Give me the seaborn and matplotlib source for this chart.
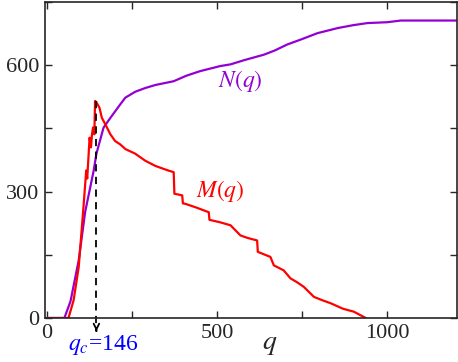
import matplotlib
matplotlib.use('Agg')
import matplotlib.pyplot as plt
import pandas as pd
import seaborn as sns

# data
q_N = [0, 52, 70, 94, 113, 138, 146, 167, 187, 216, 231, 260, 290, 319, 373, 410, 451,
       510, 540, 580, 638, 670, 706, 750, 795, 854, 900, 942, 1000, 1040, 1100, 1210]
N_vals = [0, 0, 40, 137, 252, 350, 390, 452, 475, 507, 523, 537, 546, 553, 562, 575, 586,
          598, 602, 612, 625, 635, 649, 662, 676, 688, 695, 700, 702, 706, 706, 706]

q_M = [0, 64, 79, 94, 108, 116, 119, 126, 130, 133, 136, 140, 142, 146, 155, 162,
       172, 187, 201, 216, 231, 260, 290, 319, 350, 373, 375, 398, 400, 407, 440,
       476, 478, 510, 540, 569, 590, 618, 620, 657, 667, 696, 716, 735, 755, 785,
       810, 834, 870, 902, 937]
M_vals = [0, 0, 42, 121, 263, 350, 331, 428, 405, 436, 452, 436, 515, 512, 499, 475,
          460, 436, 420, 412, 401, 390, 373, 361, 352, 346, 295, 291, 272, 271, 262,
          251, 233, 227, 220, 196, 190, 184, 157, 145, 125, 113, 94, 85, 74, 50,
          42, 35, 22, 15, 0]

q_c = 146
M_peak = 515
x_ticks = [0, 250, 500, 750, 1000]
x_labels = ['0', '', '500', '', '1000']
y_ticks = [0, 150, 300, 450, 600, 750]
y_labels = ['0', '', '300', '', '600', '']

sns.set_style('ticks')
plt.rcParams['font.family'] = ['Liberation Serif', 'DejaVu Serif']
plt.rcParams['mathtext.fontset'] = 'stix'

dfN = pd.DataFrame({'q': q_N, 'v': N_vals})
dfM = pd.DataFrame({'q': q_M, 'v': M_vals})

fig = plt.figure(figsize=(4.58, 3.62), dpi=100)
ax = fig.add_axes([45/458, 44/362, 412/458, 316/362])

sns.lineplot(data=dfN, x='q', y='v', ax=ax, color='#9400D3', lw=1.6)
sns.lineplot(data=dfM, x='q', y='v', ax=ax, color='#FF0000', lw=1.6)

ax.set_xlim(-5, 1205)
ax.set_ylim(0, 746)
ax.set_xticks(x_ticks)
ax.set_xticklabels(x_labels)
ax.set_yticks(y_ticks)
ax.set_yticklabels(y_labels)
ax.tick_params(direction='in', top=True, right=True, length=5, width=1,
               labelsize=16, pad=4)
for s in ax.spines.values():
    s.set_linewidth(1.2)
    s.set_visible(True)
ax.set_ylabel('')
ax.set_xlabel('')
ax.text((270-45)/412, -31/316, '$q$', transform=ax.transAxes, fontsize=20,
        ha='center', va='baseline')

# dashed arrow from the peak down to q_c
ax.plot([q_c, q_c], [M_peak, -30], ls=(0, (4, 3)), color='k', lw=1.3, clip_on=False)
ax.annotate('', xy=(q_c, -38), xytext=(q_c, -24),
            arrowprops=dict(arrowstyle='->', color='k', lw=1.3), annotation_clip=False)
ax.text(q_c + 20, -76, '$q_c$=146', color='#0000FF', fontsize=17,
        ha='center', va='baseline')

ax.text(569, 562, '$N(q)$', color='#9400D3', fontsize=17, ha='center', va='center')
ax.text(510, 302, '$M(q)$', color='#FF0000', fontsize=17, ha='center', va='center')

fig.savefig('out.png', dpi=100)
